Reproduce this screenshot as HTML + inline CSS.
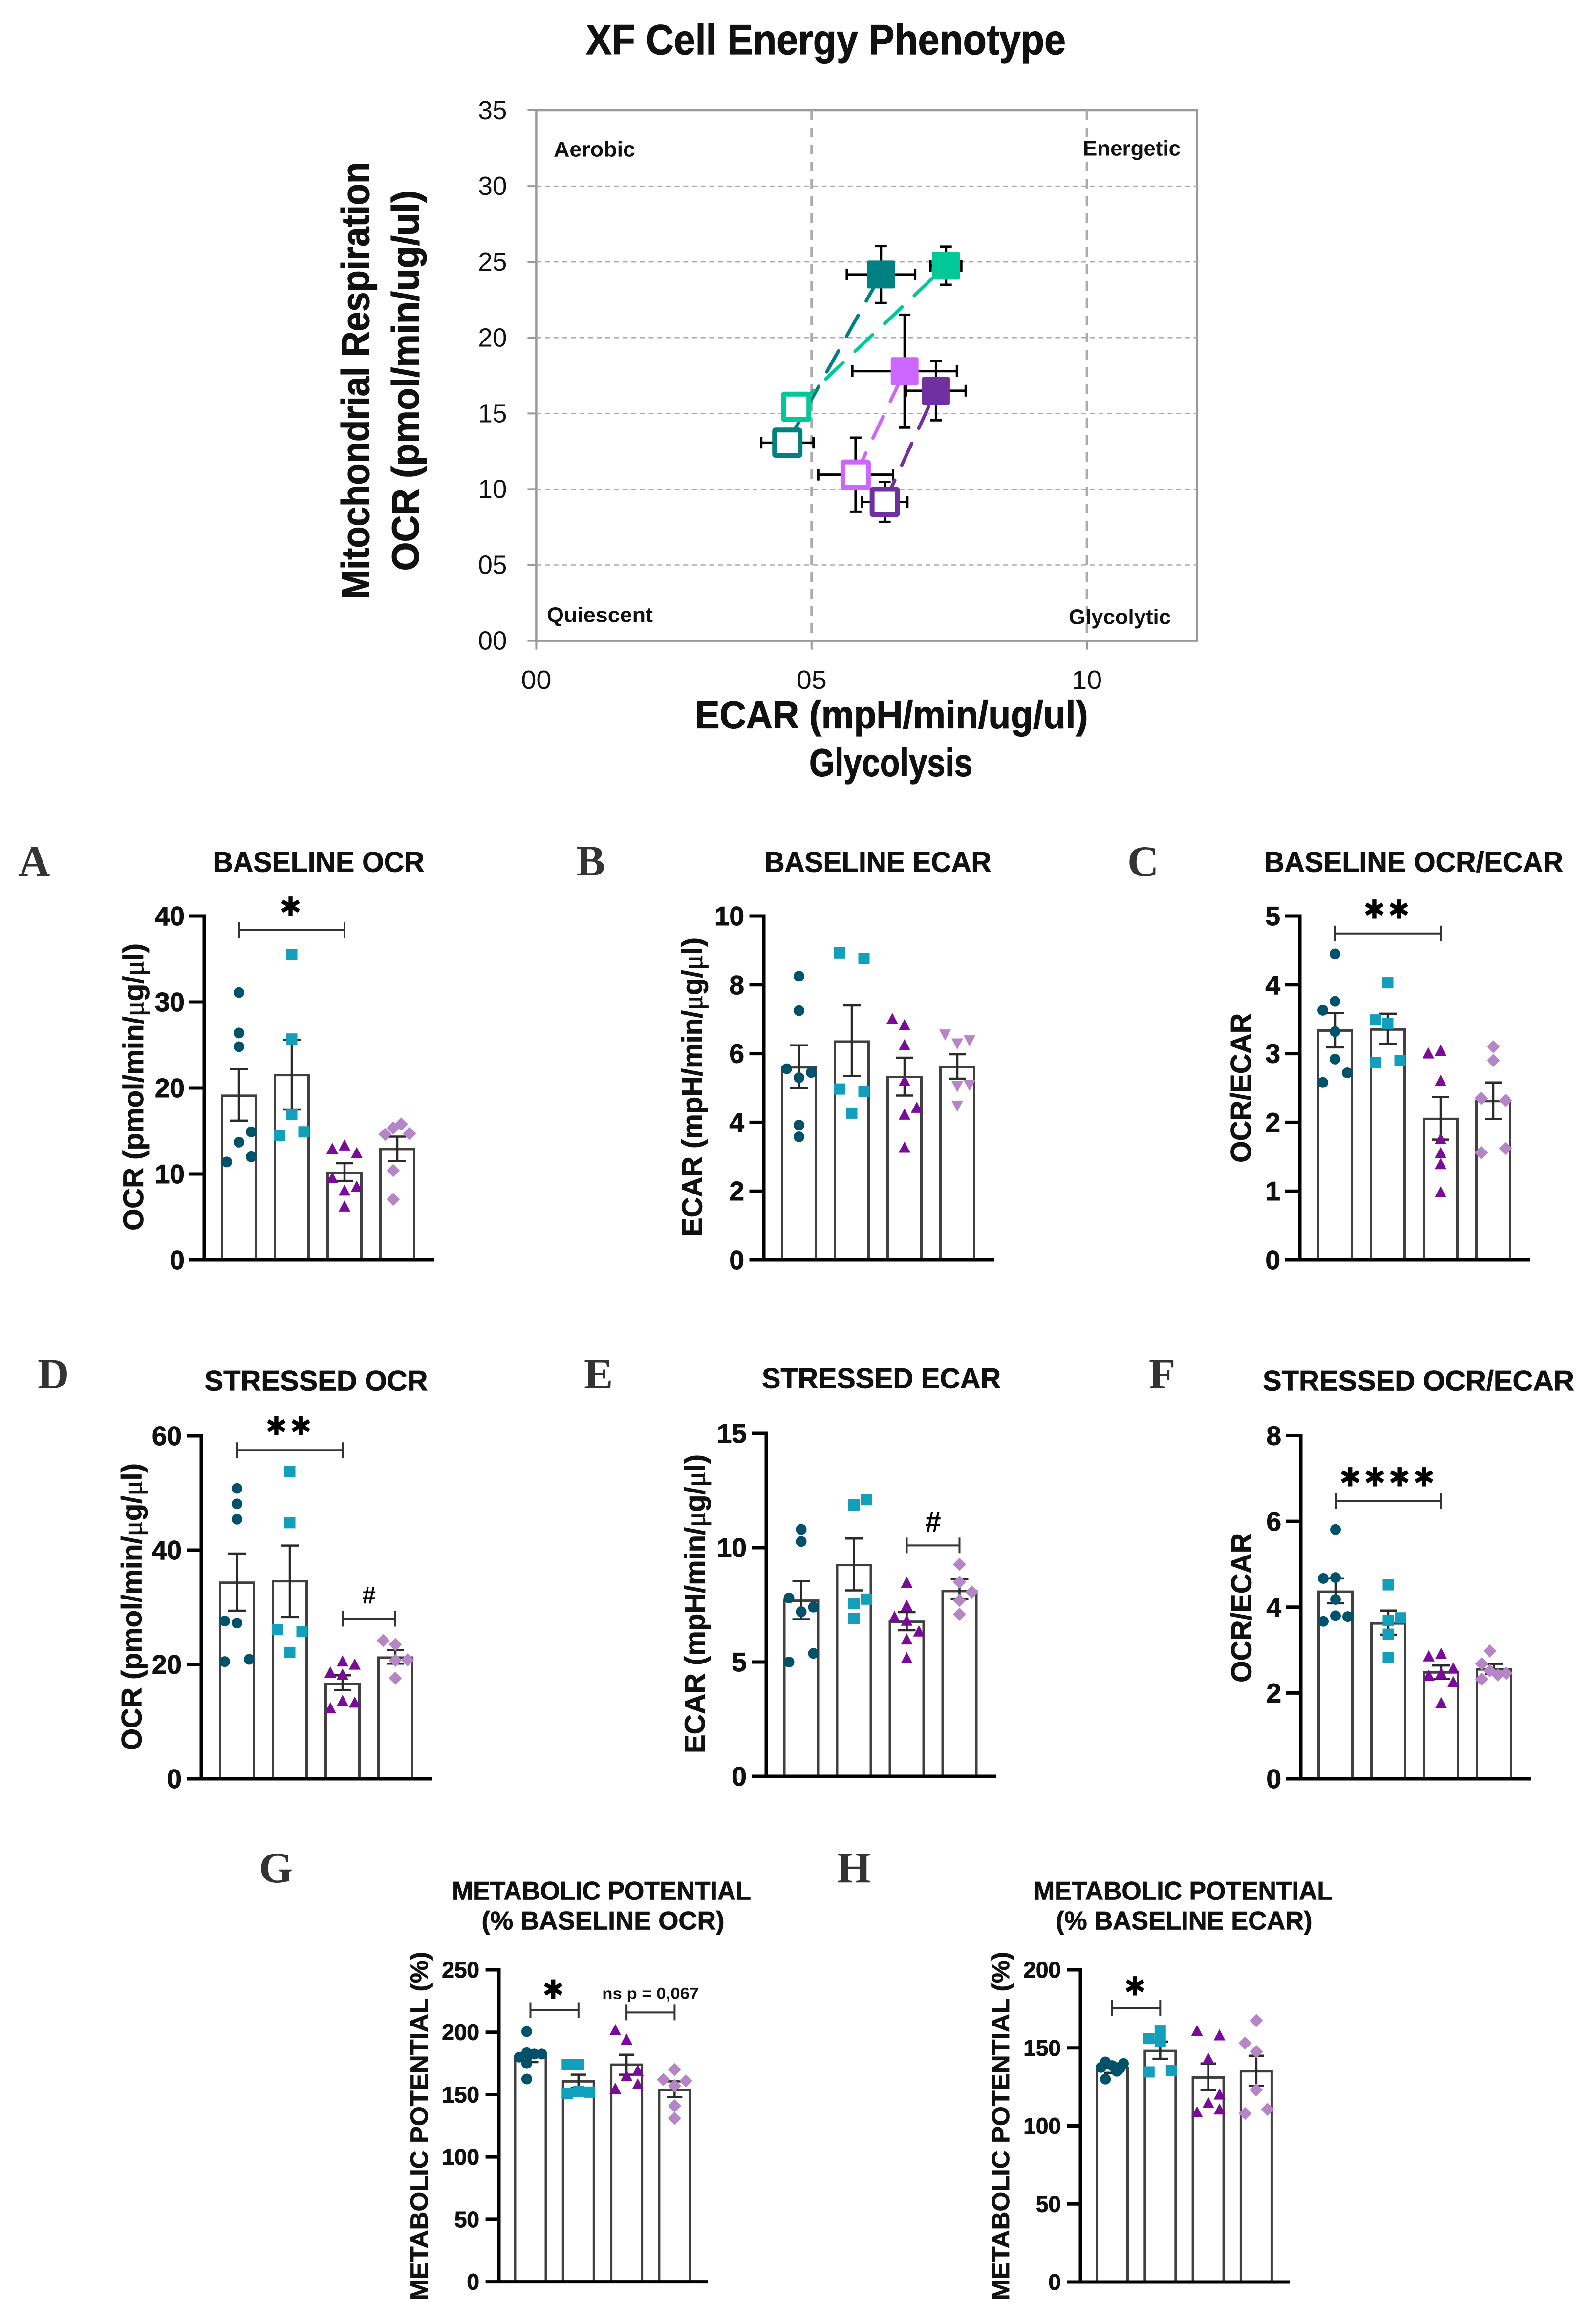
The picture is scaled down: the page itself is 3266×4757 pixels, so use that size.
<!DOCTYPE html>
<html lang="en">
<head>
<meta charset="utf-8">
<title>XF Cell Energy Phenotype</title>
<style>
html,body{margin:0;padding:0;background:#fff}
svg{display:block}
text{font-family:"Liberation Sans",sans-serif}
.letter{font-family:"Liberation Serif",serif;font-weight:bold;font-size:89px;fill:#333}
.ptitle{font-weight:bold;fill:#111;stroke:#111;stroke-width:.8;text-anchor:middle;dominant-baseline:central}
.ylab{font-weight:bold;fill:#111;stroke:#111;stroke-width:.8;text-anchor:middle;dominant-baseline:central}
.mu{font-family:"Liberation Serif",serif;font-weight:normal}
.top{font-weight:bold;fill:#111;stroke:#111;stroke-width:1.2;text-anchor:middle;dominant-baseline:central}
.quad{font-weight:bold;fill:#111;font-size:44px;dominant-baseline:central}
.ticklabel{font-weight:bold;fill:#111;stroke:#111;stroke-width:1;text-anchor:end;dominant-baseline:central}
</style>
</head>
<body>
<svg id="figure" xmlns="http://www.w3.org/2000/svg" width="3266" height="4757" viewBox="0 0 3266 4757">
<rect x="0" y="0" width="3266" height="4757" fill="#fff"/>

<text class="top" x="1690" y="82" font-size="86" textLength="982" lengthAdjust="spacingAndGlyphs">XF Cell Energy Phenotype</text>
<g id="phenotype"></g>
<text class="top" transform="translate(727.5 779) rotate(-90)" font-size="80" textLength="895" lengthAdjust="spacingAndGlyphs">Mitochondrial Respiration</text>
<text class="top" transform="translate(829.6 779) rotate(-90)" font-size="78" textLength="779" lengthAdjust="spacingAndGlyphs">OCR  (pmol/min/ug/ul)</text>
<text class="top" x="1824.5" y="1463" font-size="80" textLength="804" lengthAdjust="spacingAndGlyphs">ECAR (mpH/min/ug/ul)</text>
<text class="top" x="1823" y="1561" font-size="80" textLength="334" lengthAdjust="spacingAndGlyphs">Glycolysis</text>
<text class="quad" x="1133" y="306" textLength="167" lengthAdjust="spacingAndGlyphs">Aerobic</text>
<text class="quad" x="2216" y="304" textLength="200" lengthAdjust="spacingAndGlyphs">Energetic</text>
<text class="quad" x="1119" y="1259" textLength="217" lengthAdjust="spacingAndGlyphs">Quiescent</text>
<text class="quad" x="2187" y="1263" textLength="209" lengthAdjust="spacingAndGlyphs">Glycolytic</text>

<text class="letter" x="38" y="1793">A</text>
<text class="letter" x="1179" y="1792">B</text>
<text class="letter" x="2307" y="1793">C</text>
<text class="letter" x="77" y="2842">D</text>
<text class="letter" x="1195" y="2842">E</text>
<text class="letter" x="2351" y="2842">F</text>
<text class="letter" x="530" y="3853">G</text>
<text class="letter" x="1713" y="3853">H</text>

<text class="ptitle" x="652" y="1765" font-size="58" textLength="433" lengthAdjust="spacingAndGlyphs">BASELINE OCR</text>
<text class="ptitle" x="1796.5" y="1765" font-size="58" textLength="464" lengthAdjust="spacingAndGlyphs">BASELINE ECAR</text>
<text class="ptitle" x="2893" y="1765" font-size="58" textLength="612" lengthAdjust="spacingAndGlyphs">BASELINE OCR/ECAR</text>
<text class="ptitle" x="647" y="2827" font-size="58" textLength="457" lengthAdjust="spacingAndGlyphs">STRESSED OCR</text>
<text class="ptitle" x="1803.5" y="2822" font-size="58" textLength="489" lengthAdjust="spacingAndGlyphs">STRESSED ECAR</text>
<text class="ptitle" x="2902.5" y="2827" font-size="58" textLength="637" lengthAdjust="spacingAndGlyphs">STRESSED OCR/ECAR</text>
<text class="ptitle" x="1231" y="3871" font-size="53" textLength="612" lengthAdjust="spacingAndGlyphs">METABOLIC POTENTIAL</text>
<text class="ptitle" x="1234" y="3932" font-size="53" textLength="497" lengthAdjust="spacingAndGlyphs">(% BASELINE OCR)</text>
<text class="ptitle" x="2421" y="3871" font-size="53" textLength="612" lengthAdjust="spacingAndGlyphs">METABOLIC POTENTIAL</text>
<text class="ptitle" x="2423" y="3932" font-size="53" textLength="525" lengthAdjust="spacingAndGlyphs">(% BASELINE ECAR)</text>

<text class="ylab" transform="translate(273.6 2225) rotate(-90)" font-size="58" textLength="588" lengthAdjust="spacingAndGlyphs">OCR (pmol/min/<tspan class="mu">μ</tspan>g/<tspan class="mu">μ</tspan>l)</text>
<text class="ylab" transform="translate(1417 2225) rotate(-90)" font-size="58" textLength="612" lengthAdjust="spacingAndGlyphs">ECAR (mpH/min/<tspan class="mu">μ</tspan>g/<tspan class="mu">μ</tspan>l)</text>
<text class="ylab" transform="translate(2540 2227) rotate(-90)" font-size="58" textLength="306" lengthAdjust="spacingAndGlyphs">OCR/ECAR</text>
<text class="ylab" transform="translate(270 3289) rotate(-90)" font-size="58" textLength="588" lengthAdjust="spacingAndGlyphs">OCR (pmol/min/<tspan class="mu">μ</tspan>g/<tspan class="mu">μ</tspan>l)</text>
<text class="ylab" transform="translate(1422.7 3283) rotate(-90)" font-size="58" textLength="612" lengthAdjust="spacingAndGlyphs">ECAR (mpH/min/<tspan class="mu">μ</tspan>g/<tspan class="mu">μ</tspan>l)</text>
<text class="ylab" transform="translate(2541 3291) rotate(-90)" font-size="58" textLength="306" lengthAdjust="spacingAndGlyphs">OCR/ECAR</text>
<text class="ylab" transform="translate(858 4352) rotate(-90)" font-size="50" textLength="714" lengthAdjust="spacingAndGlyphs">METABOLIC POTENTIAL (%)</text>
<text class="ylab" transform="translate(2048 4352) rotate(-90)" font-size="50" textLength="714" lengthAdjust="spacingAndGlyphs">METABOLIC POTENTIAL (%)</text>

<g id="panels"></g>
</svg>

<script>
// ---------- Energy phenotype data ----------
const phenoSeries = ['teal', 'green', 'lilac', 'violet'];
const phenoColors = ['#008080', '#00c896', '#cc66ff', '#7030a0'];
const baselineEcar = [4.56, 4.72, 5.80, 6.33];
const baselineOcr = [13.07, 15.44, 10.96, 9.16];
const baselineEcarErr = [0.475, 0.2, 0.68, 0.41];
const baselineOcrErr = [0.9, 0.6, 2.44, 1.32];
const stressedEcar = [6.26, 7.44, 6.69, 7.26];
const stressedOcr = [24.17, 24.75, 17.79, 16.5];
const stressedEcarErr = [0.62, 0.28, 0.95, 0.54];
const stressedOcrErr = [1.88, 1.26, 3.72, 1.95];
const phenoYTicks = ['00', '05', '10', '15', '20', '25', '30', '35'];
const phenoXTicks = ['00', '05', '10'];

// ---------- Bar panel data ----------
const ticksA = [0, 10, 20, 30, 40];
const meansA = [19.1, 21.5, 10.1, 12.9];
const errHighA = [22.2, 25.6, 11.25, 14.35];
const errLowA = [16.2, 17.5, 9.2, 11.5];
const pointsA = [[31.1, 26.4, 24.8, 14.9, 13.7, 12.0, 11.4], [35.5, 25.7, 16.9, 14.5, 14.9], [13.3, 12.9, 12.4, 9.5, 8.5, 8.05, 6.2], [15.8, 15.35, 14.6, 14.7, 10.4, 7.05]];
const slotsA = [[0, 0, 0, 1, 0, 1, -1], [0, 0, 0, -1, 1], [0, -1, 1, -1, 1, 0, 0], [0.33, -0.33, -1, 1, -0.33, -0.33]];

const ticksB = [0, 2, 4, 6, 8, 10];
const meansB = [5.6, 6.35, 5.32, 5.61];
const errHighB = [6.24, 7.4, 5.88, 5.98];
const errLowB = [4.99, 5.35, 4.78, 5.27];
const pointsB = [[8.25, 7.25, 5.56, 5.45, 5.3, 3.92, 3.58], [8.93, 8.77, 4.97, 4.9, 4.27], [7.0, 6.82, 6.24, 5.2, 4.42, 4.22, 3.26], [6.56, 6.3, 6.39, 5.06, 5.09, 4.49]];
const slotsB = [[0, 0, -1, 1, 0, 0, 0], [-1, 1, -1, 1, 0], [-1, 0, 0, 0, 1, 0, 0], [-1, 0, 1, 0, 1, 0]];

const ticksC = [0, 1, 2, 3, 4, 5];
const meansC = [3.335, 3.35, 2.05, 2.31];
const errHighC = [3.59, 3.58, 2.37, 2.58];
const errLowC = [3.09, 3.14, 1.75, 2.05];
const pointsC = [[4.45, 3.76, 3.63, 3.32, 2.92, 2.72, 2.58], [4.03, 3.49, 3.44, 2.87, 2.9], [3.0, 3.04, 2.6, 1.755, 1.55, 1.39, 0.98], [3.1, 2.9, 2.35, 2.32, 1.62, 1.56]];
const slotsC = [[0, 0, -1, 0, 0, 1, -1], [0, -1, 0, -1, 1], [-1, 0, 0, 0, 0, 0, 0], [0, 0, -1, 1, 1, -1]];

const ticksD = [0, 20, 40, 60];
const meansD = [34.3, 34.56, 16.6, 21.2];
const errHighD = [39.4, 40.8, 18.1, 22.5];
const errLowD = [29.4, 28.3, 15.5, 20.15];
const pointsD = [[50.8, 48.1, 45.4, 27.6, 27.25, 20.9, 20.5], [53.8, 44.8, 26.1, 25.75, 22.1], [20.5, 19.95, 18.55, 18.2, 13.6, 13.3, 12.3], [24.2, 23.5, 20.7, 20.8, 17.6]];
const slotsD = [[0, 0, 0, -1, 0, 1, -1], [0, 0, -1, 1, 0], [0, 1, -1, 0, 0, 1, -1], [-1, 0, 0, 1, 0]];

const ticksE = [0, 5, 10, 15];
const meansE = [7.68, 9.24, 6.76, 8.1];
const errHighE = [8.54, 10.4, 7.18, 8.63];
const errLowE = [6.87, 8.13, 6.39, 7.75];
const pointsE = [[10.8, 10.27, 7.8, 7.4, 7.2, 5.38, 5.0], [12.1, 11.87, 7.75, 7.56, 6.9], [8.46, 7.45, 6.96, 6.8, 6.33, 5.98, 5.16], [9.27, 8.5, 8.06, 7.7, 7.09]];
const slotsE = [[0, 0, -1, 1, 0, 1, -1], [1, 0, 1, 0, 0], [0, 0, -1, 0, 1, 0, 0], [0, 0, 1, 0, 0]];

const ticksF = [0, 2, 4, 6, 8];
const meansF = [4.36, 3.62, 2.48, 2.55];
const errHighF = [4.67, 3.92, 2.64, 2.68];
const errLowF = [4.09, 3.36, 2.33, 2.44];
const pointsF = [[5.81, 4.67, 4.69, 4.18, 3.8, 3.78, 3.67], [4.52, 3.75, 3.69, 3.37, 2.82], [2.85, 2.91, 2.57, 2.45, 2.4, 2.25, 1.76], [2.98, 2.68, 2.52, 2.42, 2.46, 2.32]];
const slotsF = [[0, -1, 0, 0, 0, 1, -1], [0, 1, 0, 0, 0], [-1, 0, 1, 0, -1, 1, 0], [-0.33, -1, -0.33, 0.33, 1, -1]];

const ticksG = [0, 50, 100, 150, 200, 250];
const meansG = [180, 160.6, 174, 153.7];
const errHighG = [184, 166, 182, 160.6];
const errLowG = [176, 155.4, 166, 148];
const pointsG = [[200.5, 183.5, 182.5, 182.5, 180, 175, 162.5], [174, 174, 152.5, 151, 152], [201.5, 194, 169, 165, 158, 154.5], [170, 162, 161, 157, 141, 131]];
const slotsG = [[-0.33, -0.33, 0.33, 1, -1, -0.33, -0.33], [-1, 0, 0, -1, 1], [-1, 0, 1, 0, 1, -1], [0, -1, 1, 0, 0, 0]];

const ticksH = [0, 50, 100, 150, 200];
const meansH = [137, 148, 131, 135];
const errHighH = [140, 154, 140, 145];
const errLowH = [134, 143, 123, 125.6];
const pointsH = [[137.5, 141, 138.6, 135, 137, 140, 130], [161, 156, 154, 134.6, 135.4], [160.8, 157.9, 143, 120, 114.6, 110.4, 108.6], [167.5, 153, 147.6, 123, 110.6, 108]];
const slotsH = [[-1, -0.6, 0, 0.4, 0.7, 1, -0.6], [0, -1, 0, -1, 1], [-1, 1, 0, 1, 0, 1, -1], [0, -1, 0, 0, 1, -1]];

const sigA = [{from: 0, to: 2, level: 38.35, label: '✱'}];
const sigB = [];
const sigC = [{from: 0, to: 2, level: 4.746, label: '✱✱'}];
const sigD = [{from: 0, to: 2, level: 57.5, label: '✱✱'}, {from: 2, to: 3, level: 28, label: '#', size: 50}];
const sigE = [{from: 2, to: 3, level: 10.1, label: '#', size: 58}];
const sigF = [{from: 0, to: 2, level: 6.47, label: '✱✱✱✱'}];
const sigG = [{from: 0, to: 1, level: 217.7, label: '✱'}, {from: 2, to: 3, level: 215.8, label: 'ns p = 0,067'}];
const sigH = [{from: 0, to: 1, level: 175.6, label: '✱'}];

// ---------- Drawing ----------
const NS = 'http://www.w3.org/2000/svg';
function mk(parent, tag, attrs, name, text) {
  const e = document.createElementNS(NS, tag);
  for (const k in attrs) e.setAttribute(k, attrs[k]);
  
  
  if (text !== undefined) e.textContent = text;
  parent.appendChild(e);
  return e;
}

function drawPhenotype() {
  const g = document.getElementById('phenotype');
  const L = 1097.4, R = 2449.5, T = 226, B = 1311.6, XMAX = 12, YMAX = 35;
  const X = v => L + (v / XMAX) * (R - L);
  const Y = v => B - (v / YMAX) * (B - T);
  mk(g, 'rect', {x: L, y: T, width: R - L, height: B - T, fill: '#fff', stroke: '#999', 'stroke-width': 4.5}, 'plot-frame');
  phenoYTicks.forEach(t => {
    const v = +t, y = Y(v);
    if (v > 0 && v < YMAX) mk(g, 'line', {x1: L, x2: R, y1: y, y2: y, stroke: '#aaa', 'stroke-width': 2.5, 'stroke-dasharray': '10 7.7'}, 'y-gridline');
    mk(g, 'line', {x1: L - 18, x2: L, y1: y, y2: y, stroke: '#999', 'stroke-width': 4}, 'y-tick');
    mk(g, 'text', {x: L - 60, y: y, 'text-anchor': 'end', 'dominant-baseline': 'central', 'font-size': 54, fill: '#111', textLength: 59, lengthAdjust: 'spacingAndGlyphs'}, 'y-tick-label', t);
  });
  phenoXTicks.forEach(t => {
    const v = +t, x = X(v);
    if (v > 0) mk(g, 'line', {x1: x, x2: x, y1: T, y2: B, stroke: '#aaa', 'stroke-width': 5, 'stroke-dasharray': '20 15'}, 'x-gridline');
    mk(g, 'line', {x1: x, x2: x, y1: B, y2: B + 18, stroke: '#999', 'stroke-width': 4}, 'x-tick');
    mk(g, 'text', {x: x, y: 1392, 'text-anchor': 'middle', 'dominant-baseline': 'central', 'font-size': 54, fill: '#111', textLength: 62, lengthAdjust: 'spacingAndGlyphs'}, 'x-tick-label', t);
  });
  function errs(px, py, ex, ey, name) {
    mk(g, 'line', {x1: X(px - ex), x2: X(px + ex), y1: Y(py), y2: Y(py), stroke: '#000', 'stroke-width': 5}, name + '-x-error');
    mk(g, 'line', {x1: X(px), x2: X(px), y1: Y(py - ey), y2: Y(py + ey), stroke: '#000', 'stroke-width': 5}, name + '-y-error');
    [px - ex, px + ex].forEach(v => mk(g, 'line', {x1: X(v), x2: X(v), y1: Y(py) - 12, y2: Y(py) + 12, stroke: '#000', 'stroke-width': 5}, name + '-x-cap'));
    [py - ey, py + ey].forEach(v => mk(g, 'line', {x1: X(px) - 12, x2: X(px) + 12, y1: Y(v), y2: Y(v), stroke: '#000', 'stroke-width': 5}, name + '-y-cap'));
  }
  phenoSeries.forEach((s, i) => {
    errs(baselineEcar[i], baselineOcr[i], baselineEcarErr[i], baselineOcrErr[i], s + '-baseline');
    errs(stressedEcar[i], stressedOcr[i], stressedEcarErr[i], stressedOcrErr[i], s + '-stressed');
  });
  phenoSeries.forEach((s, i) => {
    mk(g, 'line', {x1: X(baselineEcar[i]), y1: Y(baselineOcr[i]), x2: X(stressedEcar[i]), y2: Y(stressedOcr[i]), stroke: phenoColors[i], 'stroke-width': 7, 'stroke-linecap': 'round', 'stroke-dasharray': '49 34'}, s + '-dashed-link');
  });
  phenoSeries.forEach((s, i) => {
    mk(g, 'rect', {x: X(baselineEcar[i]) - 26, y: Y(baselineOcr[i]) - 26, width: 52, height: 52, rx: 2, fill: '#fff', stroke: phenoColors[i], 'stroke-width': 10}, s + '-baseline-marker');
    mk(g, 'rect', {x: X(stressedEcar[i]) - 28.5, y: Y(stressedOcr[i]) - 28.5, width: 57, height: 57, rx: 3, fill: phenoColors[i]}, s + '-stressed-marker');
  });
}

const markerColors = ['#00526a', '#119fbb', '#7b0a9a', '#b585c8'];
function drawMarker(g, shape, cx, cy, color, name) {
  if (shape === 'circle') {
    mk(g, 'circle', {cx: cx, cy: cy, r: 11, fill: color}, name);
  } else if (shape === 'square') {
    mk(g, 'rect', {x: cx - 11.5, y: cy - 11.5, width: 23, height: 23, fill: color}, name);
  } else if (shape === 'up') {
    mk(g, 'polygon', {points: `${cx},${cy - 13} ${cx + 12},${cy + 10} ${cx - 12},${cy + 10}`, fill: color}, name);
  } else if (shape === 'down') {
    mk(g, 'polygon', {points: `${cx},${cy + 13} ${cx + 12},${cy - 10} ${cx - 12},${cy - 10}`, fill: color}, name);
  } else {
    mk(g, 'polygon', {points: `${cx},${cy - 13.5} ${cx + 13.5},${cy} ${cx},${cy + 13.5} ${cx - 13.5},${cy}`, fill: color}, name);
  }
}

function drawPanel(c) {
  const root = document.getElementById('panels');
  const g = mk(root, 'g', {}, 'panel-' + c.id);
  const yMax = c.ticks[c.ticks.length - 1];
  const Y = v => c.y0 - (v / yMax) * (c.y0 - c.yTop);
  const X = i => c.c1 + i * c.step;
  c.means.forEach((m, i) => {
    mk(g, 'rect', {x: X(i) - c.barW / 2, y: Y(m), width: c.barW, height: c.y0 - Y(m), fill: '#fff', stroke: '#404040', 'stroke-width': 5}, 'bar-' + c.id + '-' + (i + 1));
  });
  c.means.forEach((m, i) => {
    const x = X(i), hi = Y(c.errHigh[i]), lo = Y(c.errLow[i]);
    mk(g, 'line', {x1: x, x2: x, y1: hi, y2: lo, stroke: '#2a2a2a', 'stroke-width': 4.5}, 'error-bar-' + c.id + '-' + (i + 1));
    mk(g, 'line', {x1: x - c.cap, x2: x + c.cap, y1: hi, y2: hi, stroke: '#2a2a2a', 'stroke-width': 4.5}, 'error-cap-high');
    mk(g, 'line', {x1: x - c.cap, x2: x + c.cap, y1: lo, y2: lo, stroke: '#2a2a2a', 'stroke-width': 4.5}, 'error-cap-low');
  });
  c.points.forEach((vals, gi) => {
    vals.forEach((v, k) => {
      drawMarker(g, c.shapes[gi], X(gi) + c.slots[gi][k] * c.jit, Y(v), markerColors[gi], 'point-' + c.id + '-group-' + (gi + 1));
    });
  });
  mk(g, 'line', {x1: c.axisX, x2: c.axisX, y1: c.yTop - 3.5, y2: c.y0, stroke: '#000', 'stroke-width': 7}, 'y-axis-' + c.id);
  mk(g, 'line', {x1: c.baseL, x2: c.baseR, y1: c.y0, y2: c.y0, stroke: '#000', 'stroke-width': 7}, 'x-axis-' + c.id);
  c.ticks.forEach(t => {
    const y = Y(t);
    if (t !== 0) mk(g, 'line', {x1: c.baseL, x2: c.axisX, y1: y, y2: y, stroke: '#000', 'stroke-width': 7}, 'y-tick');
    mk(g, 'text', {class: 'ticklabel', x: c.axisX - 40, y: y, 'font-size': c.tickFont}, 'y-tick-label', String(t));
  });
  c.sig.forEach(s => {
    const a = X(s.from), b = X(s.to), y = Y(s.level), mid = (a + b) / 2;
    mk(g, 'line', {x1: a, x2: b, y1: y, y2: y, stroke: '#333', 'stroke-width': 4}, 'significance-bracket');
    mk(g, 'line', {x1: a, x2: a, y1: y - 16, y2: y + 16, stroke: '#333', 'stroke-width': 4}, 'significance-bracket-end');
    mk(g, 'line', {x1: b, x2: b, y1: y - 16, y2: y + 16, stroke: '#333', 'stroke-width': 4}, 'significance-bracket-end');
    if (s.label[0] === '✱') {
      mk(g, 'text', {x: mid, y: y - c.gap, 'text-anchor': 'middle', 'dominant-baseline': 'central', 'font-size': 54, 'letter-spacing': 5, style: 'font-family:"DejaVu Sans",sans-serif', fill: '#000'}, 'significance-stars', s.label);
    } else if (s.label === '#') {
      mk(g, 'text', {x: mid, y: y - 48, 'text-anchor': 'middle', 'dominant-baseline': 'central', 'font-size': s.size, 'font-weight': 'bold', fill: '#000'}, 'significance-hash', s.label);
    } else {
      mk(g, 'text', {x: mid, y: y - 39, 'text-anchor': 'middle', 'dominant-baseline': 'central', 'font-size': 32, 'font-weight': 'bold', fill: '#111', textLength: 198, lengthAdjust: 'spacingAndGlyphs'}, 'significance-ns-label', s.label);
    }
  });
}

drawPhenotype();

const shapesCircleSquareUpDiamond = ['circle', 'square', 'up', 'diamond'];
const shapesWithDown = ['circle', 'square', 'up', 'down'];
const rowOne = {yTop: 1875, y0: 2579};
drawPanel({id: 'a', axisX: 418, baseL: 387, baseR: 889, c1: 489, step: 108, barW: 69, cap: 18, jit: 25, gap: 48, tickFont: 55, yTop: rowOne.yTop, y0: rowOne.y0, ticks: ticksA, means: meansA, errHigh: errHighA, errLow: errLowA, points: pointsA, slots: slotsA, sig: sigA, shapes: shapesCircleSquareUpDiamond});
drawPanel({id: 'b', axisX: 1563, baseL: 1533.5, baseR: 2034, c1: 1635, step: 108, barW: 69, cap: 18, jit: 25, gap: 48, tickFont: 55, yTop: rowOne.yTop, y0: rowOne.y0, ticks: ticksB, means: meansB, errHigh: errHighB, errLow: errLowB, points: pointsB, slots: slotsB, sig: sigB, shapes: shapesWithDown});
drawPanel({id: 'c', axisX: 2660, baseL: 2630, baseR: 3130, c1: 2732, step: 108, barW: 69, cap: 18, jit: 25, gap: 49, tickFont: 55, yTop: rowOne.yTop, y0: rowOne.y0, ticks: ticksC, means: meansC, errHigh: errHighC, errLow: errLowC, points: pointsC, slots: slotsC, sig: sigC, shapes: shapesCircleSquareUpDiamond});
drawPanel({id: 'd', axisX: 412, baseL: 383, baseR: 884, c1: 485, step: 108, barW: 69, cap: 18, jit: 25, gap: 49, tickFont: 55, yTop: 2939, y0: 3641, ticks: ticksD, means: meansD, errHigh: errHighD, errLow: errLowD, points: pointsD, slots: slotsD, sig: sigD, shapes: shapesCircleSquareUpDiamond});
drawPanel({id: 'e', axisX: 1568, baseL: 1538, baseR: 2039, c1: 1639.5, step: 108, barW: 69, cap: 18, jit: 25, gap: 49, tickFont: 55, yTop: 2934, y0: 3636, ticks: ticksE, means: meansE, errHigh: errHighE, errLow: errLowE, points: pointsE, slots: slotsE, sig: sigE, shapes: shapesCircleSquareUpDiamond});
drawPanel({id: 'f', axisX: 2662, baseL: 2632, baseR: 3133, c1: 2733, step: 108, barW: 69, cap: 18, jit: 25, gap: 49, tickFont: 55, yTop: 2938.5, y0: 3641, ticks: ticksF, means: meansF, errHigh: errHighF, errLow: errLowF, points: pointsF, slots: slotsF, sig: sigF, shapes: shapesCircleSquareUpDiamond});
drawPanel({id: 'g', axisX: 1021, baseL: 993.6, baseR: 1448, c1: 1085.5, step: 98.3, barW: 63, cap: 16, jit: 23, gap: 42, tickFont: 46, yTop: 4032, y0: 4670.6, ticks: ticksG, means: meansG, errHigh: errHighG, errLow: errLowG, points: pointsG, slots: slotsG, sig: sigG, shapes: shapesCircleSquareUpDiamond});
drawPanel({id: 'h', axisX: 2211, baseL: 2183.6, baseR: 2639, c1: 2276, step: 98.3, barW: 63, cap: 16, jit: 23, gap: 44, tickFont: 46, yTop: 4032, y0: 4671, ticks: ticksH, means: meansH, errHigh: errHighH, errLow: errLowH, points: pointsH, slots: slotsH, sig: sigH, shapes: shapesCircleSquareUpDiamond});
</script>
</body>
</html>
